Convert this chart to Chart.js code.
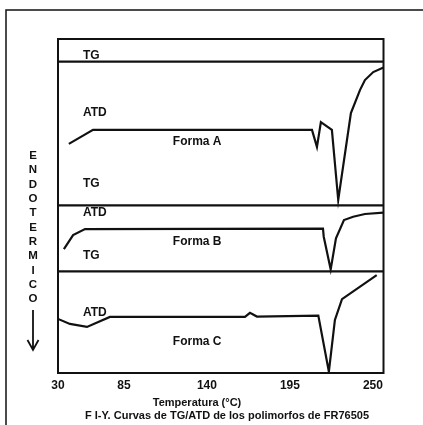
<!DOCTYPE html>
<html>
<head>
<meta charset="utf-8">
<script src="https://cdn.jsdelivr.net/npm/chart.js@4/dist/chart.umd.min.js"></script>
<style>
  html, body { margin: 0; padding: 0; background: #fff; }
  canvas { display: block; }
</style>
</head>
<body>
<canvas id="tgatd" width="423" height="425"></canvas>
<script>
// Temperature axis (°C): the left edge of the plot carries the "30" label
const xRange = [41.3, 257];
const tickValues = [41.3, 85, 140, 195, 250];
const tickLabels = ['30', '85', '140', '195', '250'];

// TG traces (flat, no mass loss), relative signal units
const tgTemps = [41.3, 257];
const tgFormaA = [93.2, 93.2];
const tgFormaB = [50.2, 50.2];
const tgFormaC = [30.4, 30.4];

// ATD trace, Forma A
const atdTempsA = [48.5, 64.5, 209.6, 212.9, 215.5, 222.8, 227.0, 235.4, 241.4, 244.7, 250.2, 257.0];
const atdFormaA = [68.6, 72.8, 72.8, 67.7, 75.1, 72.8, 51.8, 77.8, 84.7, 87.7, 90.1, 91.5];

// ATD trace, Forma B
const atdTempsB = [45.2, 51.3, 59.2, 216.9, 217.4, 222.0, 225.5, 230.8, 236.9, 244.7, 257.0];
const atdFormaB = [37.1, 41.3, 43.1, 43.2, 40.8, 31.0, 40.3, 45.8, 46.8, 47.6, 48.0];

// ATD trace, Forma C
const atdTempsC = [41.3, 49.2, 60.5, 75.7, 165.2, 168.5, 173.1, 213.8, 220.8, 224.8, 229.5, 252.5];
const atdFormaC = [16.2, 14.7, 13.8, 16.8, 16.8, 18.0, 16.9, 17.2, 0.4, 15.9, 22.1, 29.3];

// Curve captions: [text, temperature, signal]
const curveLabels = [
  ['TG', 57.8, 94.9], ['ATD', 57.8, 77.8], ['Forma A', 133.5, 69.2],
  ['TG', 57.8, 56.6], ['ATD', 57.8, 47.9], ['Forma B', 133.5, 39.2],
  ['TG', 57.8, 35.0], ['ATD', 57.8, 18.0], ['Forma C', 133.5, 9.3]
];

const axisTitle = 'Temperatura (°C)';
const caption = 'F I-Y. Curvas de TG/ATD de los polimorfos de FR76505';
const sideLetters = ['E', 'N', 'D', 'O', 'T', 'E', 'R', 'M', 'I', 'C', 'O'];

const INK = '#111111';
const FONT = '"Liberation Sans", Arial, sans-serif';

function pts(xs, ys) { return xs.map((x, i) => ({ x: x, y: ys[i] })); }

function trace(data) {
  return {
    data: data, borderColor: INK, borderWidth: 2.2, pointRadius: 0,
    tension: 0, fill: false, borderJoinStyle: 'miter'
  };
}

const decorations = {
  id: 'decorations',
  afterDraw(chart) {
    const { ctx, chartArea: a, scales } = chart;
    const xs = scales.x, ys = scales.y;
    ctx.save();
    ctx.strokeStyle = INK;
    ctx.fillStyle = INK;

    // plot frame
    ctx.lineWidth = 2;
    ctx.strokeRect(a.left, a.top, a.right - a.left, a.bottom - a.top);

    // outer page frame (top and left rules)
    ctx.lineWidth = 1.5;
    ctx.beginPath();
    ctx.moveTo(6, 425);
    ctx.lineTo(6, 10);
    ctx.lineTo(423, 10);
    ctx.stroke();

    // curve captions
    ctx.font = 'bold 12px ' + FONT;
    ctx.textBaseline = 'middle';
    curveLabels.forEach(([txt, t, v]) => {
      ctx.textAlign = txt.startsWith('Forma') ? 'center' : 'left';
      ctx.fillText(txt, xs.getPixelForValue(t), ys.getPixelForValue(v));
    });

    // vertical ENDOTERMICO with arrow
    ctx.font = 'bold 11.5px ' + FONT;
    ctx.textAlign = 'center';
    sideLetters.forEach((ch, i) => ctx.fillText(ch, 33, 156 + i * 14.3));
    ctx.lineWidth = 1.8;
    ctx.beginPath();
    ctx.moveTo(33, 310);
    ctx.lineTo(33, 350);
    ctx.moveTo(27.5, 340);
    ctx.lineTo(33, 350);
    ctx.lineTo(38.5, 340);
    ctx.stroke();

    // axis title and figure caption
    ctx.font = 'bold 11px ' + FONT;
    ctx.fillText(axisTitle, 197, 403);
    ctx.fillText(caption, 227, 416);
    ctx.restore();
  }
};

new Chart(document.getElementById('tgatd'), {
  type: 'line',
  data: {
    datasets: [
      trace(pts(tgTemps, tgFormaA)),
      trace(pts(tgTemps, tgFormaB)),
      trace(pts(tgTemps, tgFormaC)),
      trace(pts(atdTempsA, atdFormaA)),
      trace(pts(atdTempsB, atdFormaB)),
      trace(pts(atdTempsC, atdFormaC))
    ]
  },
  options: {
    responsive: false,
    animation: false,
    events: [],
    layout: { padding: { left: 58, right: 39.5, top: 39, bottom: 0 } },
    plugins: { legend: { display: false }, tooltip: { enabled: false }, title: { display: false } },
    scales: {
      x: {
        type: 'linear',
        min: xRange[0], max: xRange[1],
        grid: { display: false, drawTicks: false },
        border: { display: false },
        afterBuildTicks(scale) { scale.ticks = tickValues.map(v => ({ value: v })); },
        afterFit(scale) { scale.height = 52; },
        ticks: {
          autoSkip: false, maxRotation: 0, padding: 5, color: INK,
          font: { family: FONT, size: 12, weight: 'bold' },
          callback: (v, i) => tickLabels[i]
        }
      },
      y: { display: false, min: 0, max: 100 }
    }
  },
  plugins: [decorations]
});
</script>
</body>
</html>
